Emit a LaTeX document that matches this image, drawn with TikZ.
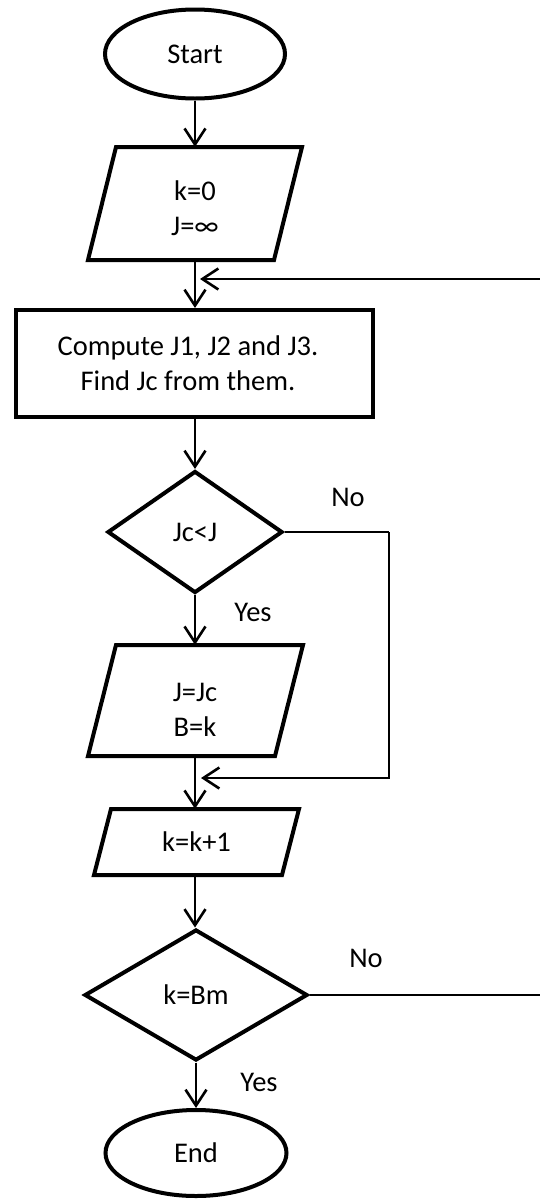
\documentclass[tikz,border=0pt]{standalone}
\usepackage{fontspec}
\setmainfont{Carlito}
\usetikzlibrary{shapes.geometric,arrows.meta}
\tikzset{
  txt/.style={font=\fontsize{28.5}{35}\selectfont, inner sep=0pt, text=black},
  shp/.style={draw=black, line width=4pt, inner sep=0pt, txt},
  outline/.style={draw=black, line width=4pt},
  term/.style={shp, ellipse},
  iobox/.style={rectangle, inner sep=0pt, txt, align=center},
  procbox/.style={shp, rectangle},
  decide/.style={shp, diamond},
  arr/.style={draw=black, line width=2.2pt, -{Straight Barb[length=16pt,width=21pt,line width=2.6pt]}},
  lnk/.style={draw=black, line width=2.2pt}
}
\begin{document}
\begin{tikzpicture}[x=1pt,y=-1pt]
\useasboundingbox (0,0) rectangle (540,1200);
% nodes
\node[term, minimum width=180pt, minimum height=89pt] (start) at (195,54) {Start};
\node[iobox, minimum width=214pt, minimum height=113pt] (io1) at (195,203.5) {};
\node[txt, align=center] (io1t) at (195,208.5) {k=0\\J=∞};
\node[procbox, minimum width=357pt, minimum height=107pt] (comp) at (194,363.5) {};
\node[txt, align=center] (compt) at (188,363.5) {Compute J1, J2 and J3.\\Find Jc from them.};
\node[decide, minimum width=175pt, minimum height=122pt] (d1) at (195,532) {Jc<J};
\node[iobox, minimum width=215pt, minimum height=111pt] (io2) at (195,700.5) {};
\node[txt, align=center] (io2t) at (195,709.5) {J=Jc\\B=k};
\node[iobox, minimum width=205pt, minimum height=66pt] (inc) at (196.5,842) {k=k+1};
\node[decide, minimum width=223pt, minimum height=131pt] (d2) at (196,995) {k=Bm};
\node[term, minimum width=181pt, minimum height=86pt] (stop) at (196,1153) {End};
% parallelogram outlines
\draw[outline] (88,260) -- (274,260) -- (302,147) -- (116,147) -- cycle;
\draw[outline] (88,756) -- (275,756) -- (303,645) -- (116,645) -- cycle;
\draw[outline] (94,875) -- (282,875) -- (299,809) -- (111,809) -- cycle;
% labels
\node[txt] (no1) at (348,497) {No};
\node[txt] (yes1) at (253,612) {Yes};
\node[txt] (no2) at (366,958) {No};
\node[txt] (yes2) at (259,1082) {Yes};
% helper coordinates
\coordinate (r1) at (389,532);
\coordinate (m1) at (201,778);
\coordinate (r2) at (548,995);
\coordinate (m0) at (200,279);
% connectors
\draw[arr] (start.south) -- (start.south |- io1.north);
\draw[arr] (io1.south) -- (io1.south |- comp.north);
\draw[arr] (io1.south |- comp.south) -- (io1.south |- d1.north);
\draw[arr] (d1.south) -- (d1.south |- io2.north);
\draw[arr] (io2.south) -- (io2.south |- inc.north);
\draw[arr] (io2.south |- inc.south) -- (io2.south |- d2.north);
\draw[arr] (d2.south) -- (d2.south |- stop.north);
\draw[lnk] (d1.east) -- (r1);
\draw[arr] (r1) |- (m1);
\draw[lnk] (d2.east) -- (r2);
\draw[arr] (r2) |- (m0);
\end{tikzpicture}
\end{document}
